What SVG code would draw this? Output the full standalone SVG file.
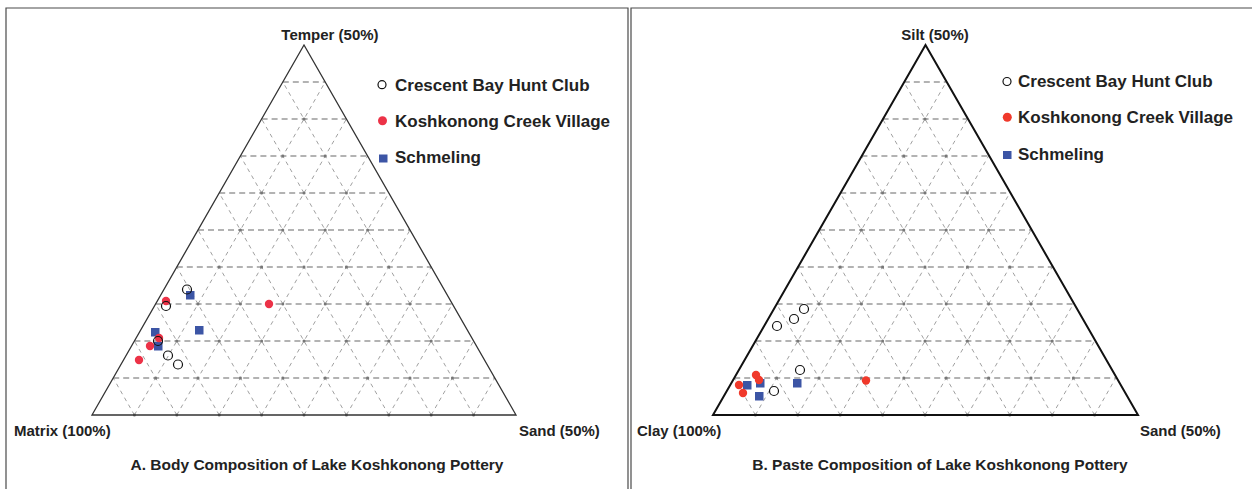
<svg xmlns="http://www.w3.org/2000/svg" width="1252" height="489" viewBox="0 0 1252 489">
<style>
.frame{fill:none;stroke:#4a4a4a;stroke-width:1.2}
.hl{stroke:#9a9a9a;stroke-width:1.5;stroke-dasharray:6 4;fill:none}
.dl{stroke:#959595;stroke-width:0.9;stroke-dasharray:4 4;fill:none}
.dots{stroke:#777;stroke-width:3;stroke-linecap:round;stroke-dasharray:0 42.4;fill:none}
.lbl{font-family:"Liberation Sans",Arial,sans-serif;font-weight:bold;font-size:15px;fill:#222}
.ttl{font-size:15.5px}
.leg{font-family:"Liberation Sans",Arial,sans-serif;font-weight:bold;font-size:17px;fill:#222}
.cb{fill:none;stroke:#111;stroke-width:1.2}
.kcA{fill:#ec3247}
.kcB{fill:#f0392b}
.sm{fill:#3c55a5}
</style>
<defs>
<g id="grid">
<path class="hl" d="M113.2,378H494.8M134.4,341H473.6M155.6,304H452.4M176.8,267H431.2M198,230H410M219.2,193H388.8M240.4,156H367.6M261.6,119H346.4M282.8,82H325.2"/>
<path class="dl" d="M134.4,415L325.2,82M176.8,415L346.4,119M219.2,415L367.6,156M261.6,415L388.8,193M304,415L410,230M346.4,415L431.2,267M388.8,415L452.4,304M431.2,415L473.6,341M473.6,415L494.8,378"/>
<path class="dl" d="M134.4,415L113.2,378M176.8,415L134.4,341M219.2,415L155.6,304M261.6,415L176.8,267M304,415L198,230M346.4,415L219.2,193M388.8,415L240.4,156M431.2,415L261.6,119M473.6,415L282.8,82"/>
<path class="dots" d="M134.4,415H473.7M155.6,378H452.5M176.8,341H431.3M198,304H410.1M219.2,267H388.9M240.4,230H367.7M261.6,193H346.5M282.8,156H325.3M304,119H304.1"/>
</g>
</defs>
<g id="frames">
<path class="frame" d="M6,489V8H628V489"/>
<path class="frame" d="M631,489V8H1252"/>
</g>
<g id="panelA">
<use href="#grid"/>
<path d="M92,415L304,45L516,415Z" fill="none" stroke="#333" stroke-width="1.3"/>
<text class="lbl" x="330" y="40" text-anchor="middle">Temper (50%)</text>
<text class="lbl" x="14" y="436">Matrix (100%)</text>
<text class="lbl" x="519" y="436">Sand (50%)</text>
<text class="lbl ttl" x="317" y="470" text-anchor="middle">A. Body Composition of Lake Koshkonong Pottery</text>
<g id="legendA">
<circle class="cb" cx="382" cy="84.7" r="4"/>
<text class="leg" x="395" y="90.7">Crescent Bay Hunt Club</text>
<circle class="kcA" cx="382.5" cy="120.7" r="4.5"/>
<text class="leg" x="395" y="126.7">Koshkonong Creek Village</text>
<rect class="sm" x="379" y="154.5" width="8.5" height="8"/>
<text class="leg" x="395" y="162.5">Schmeling</text>
</g>
<g id="dataA">
<rect class="sm" x="186" y="291" width="8.5" height="8.5"/>
<rect class="sm" x="195" y="326" width="8.5" height="8.5"/>
<rect class="sm" x="151" y="328" width="8.5" height="8.5"/>
<rect class="sm" x="154" y="342" width="8.5" height="8.5"/>
<circle class="kcA" cx="166" cy="301" r="4.2"/>
<circle class="kcA" cx="159" cy="338" r="4.2"/>
<circle class="kcA" cx="150" cy="346" r="4.2"/>
<circle class="kcA" cx="139" cy="360" r="4.2"/>
<circle class="kcA" cx="269" cy="304" r="4.2"/>
<circle class="cb" cx="187" cy="289.5" r="4.5"/>
<circle class="cb" cx="166" cy="306" r="4.5"/>
<circle class="cb" cx="158" cy="341" r="4.5"/>
<circle class="cb" cx="168" cy="355.5" r="4.5"/>
<circle class="cb" cx="178" cy="364.5" r="4.5"/>
</g>
</g>
<g id="panelB">
<use href="#grid" transform="translate(621,0)"/>
<path d="M713,415L925.5,45L1138,415Z" fill="none" stroke="#111" stroke-width="2"/>
<text class="lbl" x="935" y="40" text-anchor="middle">Silt (50%)</text>
<text class="lbl" x="637" y="436">Clay (100%)</text>
<text class="lbl" x="1140" y="436">Sand (50%)</text>
<text class="lbl ttl" x="940" y="470" text-anchor="middle">B. Paste Composition of Lake Koshkonong Pottery</text>
<g id="legendB">
<circle class="cb" cx="1007" cy="81.5" r="4"/>
<text class="leg" x="1018" y="87">Crescent Bay Hunt Club</text>
<circle class="kcB" cx="1007.3" cy="117.3" r="4.5"/>
<text class="leg" x="1018" y="123.3">Koshkonong Creek Village</text>
<rect class="sm" x="1003" y="151" width="8.5" height="8"/>
<text class="leg" x="1018" y="159.5">Schmeling</text>
</g>
<g id="dataB">
<rect class="sm" x="743" y="381" width="8.5" height="8.5"/>
<rect class="sm" x="756" y="379" width="8.5" height="8.5"/>
<rect class="sm" x="755" y="392" width="8.5" height="8.5"/>
<rect class="sm" x="793" y="379" width="8.5" height="8.5"/>
<circle class="kcB" cx="756" cy="375" r="4.2"/>
<circle class="kcB" cx="759" cy="380" r="4.2"/>
<circle class="kcB" cx="739" cy="385" r="4.2"/>
<circle class="kcB" cx="743" cy="393" r="4.2"/>
<circle class="kcB" cx="866" cy="380.5" r="4.2"/>
<circle class="cb" cx="804" cy="309" r="4.5"/>
<circle class="cb" cx="794" cy="319" r="4.5"/>
<circle class="cb" cx="777" cy="326" r="4.5"/>
<circle class="cb" cx="800" cy="370" r="4.5"/>
<circle class="cb" cx="774" cy="391" r="4.5"/>
</g>
</g>
</svg>
